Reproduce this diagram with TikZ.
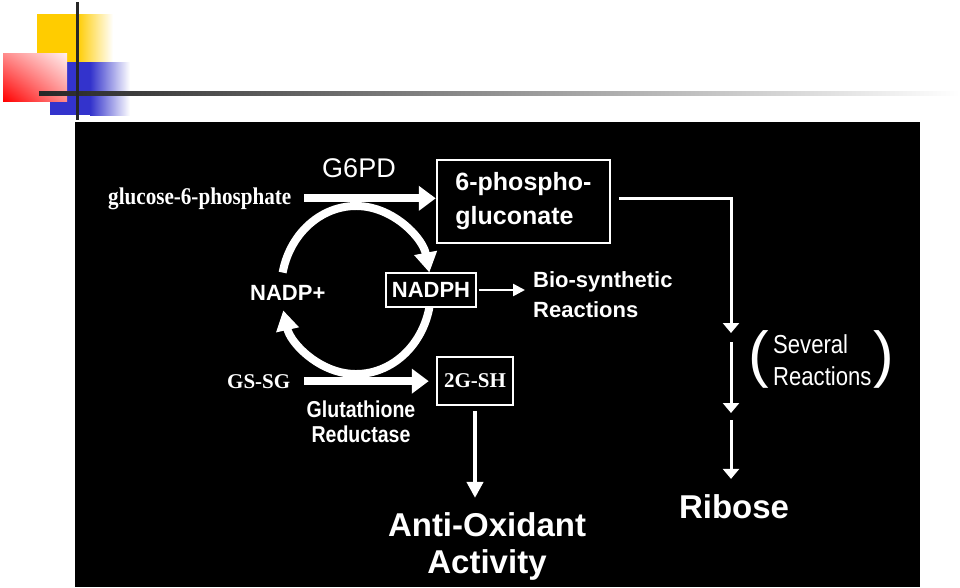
\documentclass[tikz,border=0pt]{standalone}
\usepackage{fontspec}
\setmainfont{Liberation Serif}
\setsansfont{Liberation Sans}
\newfontfamily\narrowsans{Liberation Sans}[FakeStretch=0.85]
\newfontfamily\narrowserif{Liberation Serif}[FakeStretch=0.88]
\usepackage{tikz}
\usetikzlibrary{arrows.meta}
\usetikzlibrary{shadings}
\usetikzlibrary{positioning}

\definecolor{slideyellow}{HTML}{FFCC00}
\definecolor{slideblue}{HTML}{3333CC}
\definecolor{slidered}{HTML}{FF0000}

\tikzset{
    txt/.style = {text=white, inner sep=0pt},
    serifbold/.style = {txt, font=\rmfamily\bfseries\fontsize{21}{21}\selectfont},
    tallserif/.style = {txt, font=\narrowserif\bfseries\fontsize{24}{24}\selectfont},
    enzfont/.style = {txt, font=\sffamily\fontsize{27}{27}\selectfont},
    midfont/.style = {txt, font=\sffamily\bfseries\fontsize{22}{30}\selectfont},
    boxfont/.style = {txt, font=\sffamily\bfseries\fontsize{25}{34}\selectfont},
    narrowfont/.style = {txt, font=\narrowsans\bfseries\fontsize{23}{25}\selectfont},
    sevfont/.style = {txt, font=\narrowsans\fontsize{26}{32}\selectfont},
    bigfont/.style = {txt, font=\sffamily\bfseries\fontsize{33}{37}\selectfont},
    whitebox/.style = {draw=white, line width=2.5pt},
    fatarrow/.style = {white, line width=8pt, -{Triangle[length=17pt, width=24pt]}},
    cyclearrow/.style = {white, line width=8pt, -{Triangle[length=20pt, width=22pt]}},
    thinarrow/.style = {white, line width=3pt, -{Triangle[length=10pt, width=16pt]}},
    tinyarrow/.style = {white, line width=2.5pt, -{Triangle[length=12pt, width=12pt]}},
}

\begin{document}
\begin{tikzpicture}[x = 1pt, y = -1pt]
    \useasboundingbox (0, 0) rectangle (960, 587);

    %% slide decoration
    \fill[slideyellow] (37, 14) rectangle (78, 62);
    \shade[left color = slideyellow, right color = white] (77, 14) rectangle (113, 62);
    \fill[slideblue] (50, 62) rectangle (91, 115);
    \shade[left color = slideblue, right color = white] (90, 62) rectangle (130, 115);
    \shade[upper left = slidered!45!white, upper right = slidered!6!white,
        lower left = slidered, lower right = slidered!45!white] (3, 53) rectangle (67, 101);
    \shade[left color = black!85, right color = white] (39, 91) rectangle (960, 95);
    \fill[black!85] (75.5, 2) rectangle (78.5, 120);

    %% background
    \fill[black] (75, 122) rectangle (920, 587);

    %% nodes
    \node[enzfont, anchor = base] (g6pd) at (359, 177) {G6PD};
    \node[tallserif, anchor = base west] (g6p) at (108, 204) {glucose-6-phosphate};
    \node[boxfont, whitebox, align = left, minimum width = 173pt, minimum height = 83pt]
        (pgluc) at (523.5, 201.5) {6-phospho-\\gluconate};
    \node[midfont, whitebox, minimum width = 90pt, minimum height = 34pt]
        (nadph) at (431, 290) {NADPH};
    \node[midfont, anchor = base west] (nadpp) at (250, 300) {NADP+};
    \node[midfont, align = left, anchor = base west] (bio) at (533, 317) {Bio-synthetic\\Reactions};
    \node[serifbold, anchor = base west] (gssg) at (227, 388) {GS-SG};
    \node[serifbold, whitebox, minimum width = 76pt, minimum height = 48pt]
        (gsh) at (475, 381) {2G-SH};
    \node[narrowfont, align = center, anchor = base] (enz) at (361, 442) {Glutathione\\Reductase};
    \node[bigfont, align = center, anchor = base] (antiox) at (487, 573) {Anti-Oxidant\\Activity};
    \node[bigfont, anchor = base] (ribose) at (734, 518) {Ribose};
    \node[sevfont, align = left, anchor = base west] (sev) at (773, 385) {Several\\Reactions};
    \node[txt, font = \sffamily\fontsize{62}{62}\selectfont, left = 4pt of sev] (lpar) {(};
    \node[txt, font = \sffamily\fontsize{62}{62}\selectfont, right = 2pt of sev] (rpar) {)};

    %% main reactions
    \draw[fatarrow, shorten < = 13pt] (g6p.east) -- (g6p.east -| pgluc.west);
    \draw[fatarrow, shorten < = 14pt, shorten > = 7pt] (gssg.east) -- (gssg.east -| gsh.west);
    \draw[tinyarrow, shorten < = 2pt, shorten > = 8pt] (nadph.east) -- (nadph.east -| bio.west);

    %% NADP+ / NADPH cycle
    \coordinate (cyc) at (356, 290);
    \draw[cyclearrow] ([shift = {(-168:75 and 84)}]cyc)
        arc[start angle = -168, end angle = -12, x radius = 75, y radius = 84];
    \draw[cyclearrow] ([shift = {(12:75 and 84)}]cyc)
        arc[start angle = 12, end angle = 166, x radius = 75, y radius = 84];

    %% several reactions to ribose
    \coordinate (r1) at (731, 333);
    \coordinate (r2) at (731, 413);
    \draw[thinarrow] ([xshift = 8pt, yshift = 3pt]pgluc.east) -| (r1);
    \draw[thinarrow] ([yshift = -9pt]r1) -- (r2);
    \draw[thinarrow, shorten > = 15pt] ([yshift = -7pt]r2) -- (ribose.north -| r2);

    %% anti-oxidant
    \draw[white, line width = 4pt, -{Triangle[length=16pt, width=16pt]}, shorten < = 5pt, shorten > = 14pt]
        (gsh.south) -- (antiox.north -| gsh.south);
\end{tikzpicture}
\end{document}
